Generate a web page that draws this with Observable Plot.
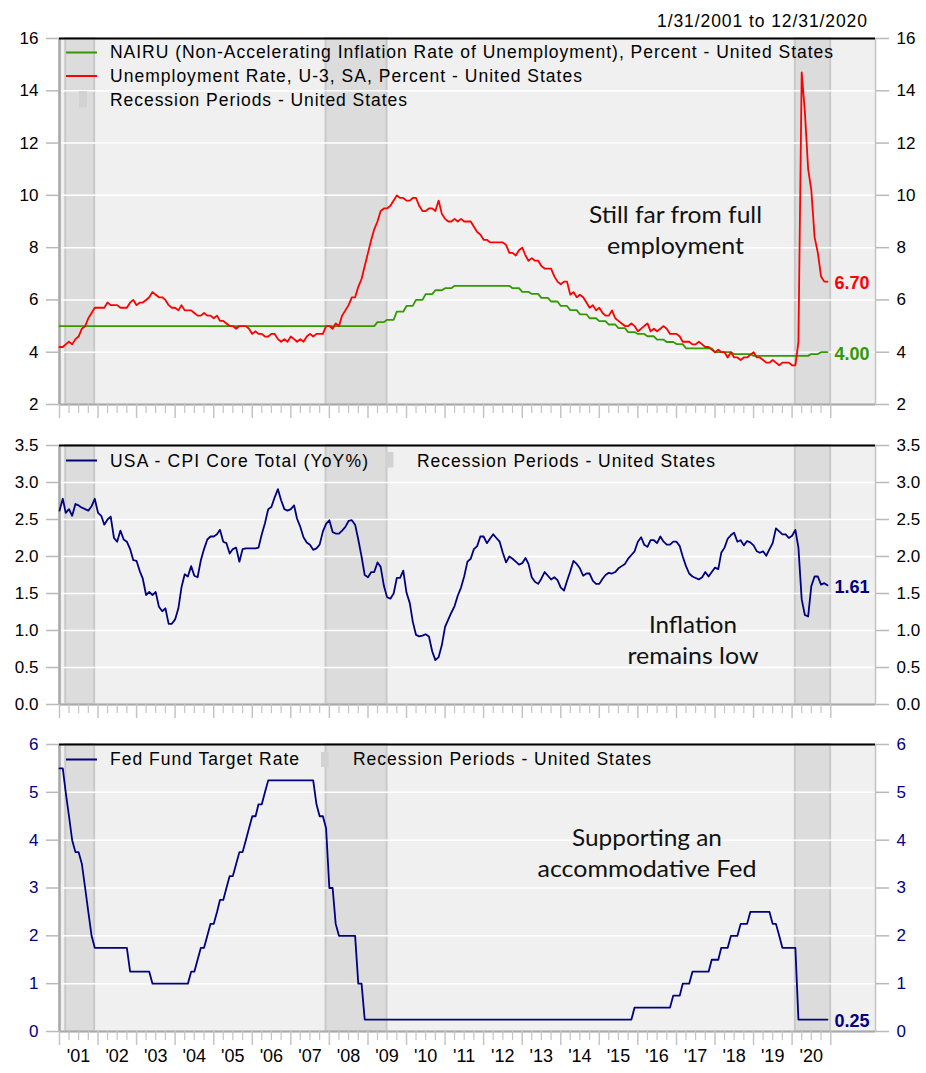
<!DOCTYPE html>
<html>
<head>
<meta charset="utf-8">
<script src="https://cdn.jsdelivr.net/npm/d3@7"></script>
<script src="https://cdn.jsdelivr.net/npm/@observablehq/plot@0.6"></script>
<style>
  html, body { margin: 0; padding: 0; background: #ffffff; }
  #wrap { position: relative; width: 926px; height: 1073px; overflow: hidden; }
  #wrap svg { position: absolute; left: 0; }
</style>
</head>
<body>
<div id="wrap"></div>
<script>
// ---------------- DATA (monthly, Jan 2001 .. Dec 2020) ----------------
const unemployment = [
  4.2,4.2,4.3,4.4,4.3,4.5,4.6,4.9,5.0,5.3,5.5,5.7,
  5.7,5.7,5.7,5.9,5.8,5.8,5.8,5.7,5.7,5.7,5.9,6.0,
  5.8,5.9,5.9,6.0,6.1,6.3,6.2,6.1,6.1,6.0,5.8,5.7,
  5.7,5.6,5.8,5.6,5.6,5.6,5.5,5.4,5.4,5.5,5.4,5.4,
  5.3,5.4,5.2,5.2,5.1,5.0,5.0,4.9,5.0,5.0,5.0,4.9,
  4.7,4.8,4.7,4.7,4.6,4.6,4.7,4.7,4.5,4.4,4.5,4.4,
  4.6,4.5,4.4,4.5,4.4,4.6,4.7,4.6,4.7,4.7,4.7,5.0,
  5.0,4.9,5.1,5.0,5.4,5.6,5.8,6.1,6.1,6.5,6.8,7.3,
  7.8,8.3,8.7,9.0,9.4,9.5,9.5,9.6,9.8,10.0,9.9,9.9,
  9.8,9.8,9.9,9.9,9.6,9.4,9.4,9.5,9.5,9.4,9.8,9.3,
  9.1,9.0,9.0,9.1,9.0,9.1,9.0,9.0,9.0,8.8,8.6,8.5,
  8.3,8.3,8.2,8.2,8.2,8.2,8.2,8.1,7.8,7.8,7.7,7.9,
  8.0,7.7,7.5,7.6,7.5,7.5,7.3,7.2,7.2,7.2,6.9,6.7,
  6.6,6.7,6.7,6.2,6.3,6.1,6.2,6.1,5.9,5.7,5.8,5.6,
  5.7,5.5,5.4,5.4,5.6,5.3,5.2,5.1,5.0,5.0,5.1,5.0,
  4.8,4.9,5.0,5.1,4.8,4.9,4.8,4.9,5.0,4.9,4.7,4.7,
  4.7,4.6,4.4,4.4,4.4,4.3,4.3,4.4,4.3,4.2,4.2,4.1,
  4.0,4.1,4.0,4.0,3.8,4.0,3.8,3.8,3.7,3.8,3.8,3.9,
  4.0,3.8,3.8,3.7,3.6,3.6,3.7,3.6,3.5,3.6,3.6,3.6,
  3.5,3.5,4.4,14.7,13.2,11.0,10.2,8.4,7.8,6.9,6.7,6.7
];

// quarterly, 2001Q1 .. 2020Q4
const nairuQuarterly = [
  5.0,5.0,5.0,5.0, 5.0,5.0,5.0,5.0, 5.0,5.0,5.0,5.0, 5.0,5.0,5.0,5.0,
  5.0,5.0,5.0,5.0, 5.0,5.0,5.0,5.0, 5.0,5.0,5.0,5.0, 5.0,5.0,5.0,5.0,
  5.0,5.15,5.24,5.55, 5.77,6.0,6.22,6.37, 6.45,6.54,6.54,6.54, 6.54,6.54,6.54,6.45,
  6.31,6.23,6.08,5.94, 5.77,5.61,5.45,5.30, 5.19,5.06,4.92,4.77, 4.70,4.61,4.48,4.39,
  4.31,4.15,4.15,4.15, 4.0,4.0,3.93,3.93, 3.86,3.86,3.86,3.86, 3.86,3.86,3.93,4.0
];

const coreCPI = [
  2.62,2.78,2.59,2.64,2.55,2.71,2.69,2.66,2.64,2.62,2.68,2.78,
  2.59,2.55,2.43,2.50,2.54,2.25,2.20,2.35,2.23,2.20,2.10,1.95,
  1.94,1.80,1.70,1.48,1.52,1.48,1.52,1.32,1.26,1.30,1.09,1.09,
  1.15,1.30,1.58,1.76,1.73,1.87,1.74,1.72,1.95,2.10,2.23,2.27,
  2.27,2.30,2.36,2.20,2.18,2.04,2.10,2.12,1.93,2.10,2.11,2.11,
  2.11,2.11,2.12,2.30,2.45,2.64,2.67,2.80,2.91,2.76,2.64,2.62,
  2.64,2.69,2.51,2.40,2.26,2.19,2.16,2.09,2.11,2.16,2.34,2.44,
  2.49,2.33,2.31,2.31,2.35,2.40,2.48,2.49,2.43,2.23,2.00,1.75,
  1.72,1.79,1.79,1.92,1.86,1.60,1.45,1.43,1.50,1.71,1.71,1.81,
  1.51,1.37,1.12,0.94,0.92,0.93,0.95,0.92,0.72,0.60,0.64,0.80,
  1.05,1.15,1.24,1.33,1.47,1.58,1.73,1.93,1.97,2.10,2.14,2.27,
  2.27,2.18,2.24,2.30,2.25,2.20,2.05,1.92,2.00,1.97,1.93,1.89,
  1.91,1.98,1.90,1.72,1.66,1.63,1.70,1.79,1.74,1.69,1.72,1.68,
  1.58,1.54,1.67,1.80,1.94,1.90,1.84,1.74,1.77,1.77,1.67,1.63,
  1.63,1.70,1.75,1.78,1.77,1.79,1.84,1.87,1.90,1.97,2.02,2.07,
  2.20,2.26,2.16,2.13,2.22,2.22,2.18,2.27,2.20,2.16,2.16,2.20,
  2.20,2.14,2.00,1.87,1.77,1.73,1.71,1.69,1.72,1.79,1.73,1.79,
  1.85,1.83,2.05,2.12,2.24,2.29,2.32,2.20,2.22,2.15,2.21,2.19,
  2.15,2.07,2.05,2.07,2.01,2.10,2.18,2.38,2.34,2.30,2.30,2.25,
  2.28,2.36,2.12,1.42,1.21,1.19,1.60,1.73,1.73,1.62,1.64,1.61
];

const fedFunds = [
  5.5,5.5,5.0,4.5,4.0,3.75,3.75,3.5,3.0,2.5,2.0,1.75,
  1.75,1.75,1.75,1.75,1.75,1.75,1.75,1.75,1.75,1.75,1.25,1.25,
  1.25,1.25,1.25,1.25,1.25,1.0,1.0,1.0,1.0,1.0,1.0,1.0,
  1.0,1.0,1.0,1.0,1.0,1.25,1.25,1.5,1.75,1.75,2.0,2.25,
  2.25,2.5,2.75,2.75,3.0,3.25,3.25,3.5,3.75,3.75,4.0,4.25,
  4.5,4.5,4.75,4.75,5.0,5.25,5.25,5.25,5.25,5.25,5.25,5.25,
  5.25,5.25,5.25,5.25,5.25,5.25,5.25,5.25,4.75,4.5,4.5,4.25,
  3.0,3.0,2.25,2.0,2.0,2.0,2.0,2.0,2.0,1.0,1.0,0.25,
  0.25,0.25,0.25,0.25,0.25,0.25,0.25,0.25,0.25,0.25,0.25,0.25,
  0.25,0.25,0.25,0.25,0.25,0.25,0.25,0.25,0.25,0.25,0.25,0.25,
  0.25,0.25,0.25,0.25,0.25,0.25,0.25,0.25,0.25,0.25,0.25,0.25,
  0.25,0.25,0.25,0.25,0.25,0.25,0.25,0.25,0.25,0.25,0.25,0.25,
  0.25,0.25,0.25,0.25,0.25,0.25,0.25,0.25,0.25,0.25,0.25,0.25,
  0.25,0.25,0.25,0.25,0.25,0.25,0.25,0.25,0.25,0.25,0.25,0.25,
  0.25,0.25,0.25,0.25,0.25,0.25,0.25,0.25,0.25,0.25,0.25,0.5,
  0.5,0.5,0.5,0.5,0.5,0.5,0.5,0.5,0.5,0.5,0.5,0.75,
  0.75,0.75,1.0,1.0,1.0,1.25,1.25,1.25,1.25,1.25,1.25,1.5,
  1.5,1.5,1.75,1.75,1.75,2.0,2.0,2.0,2.25,2.25,2.25,2.5,
  2.5,2.5,2.5,2.5,2.5,2.5,2.25,2.25,2.0,1.75,1.75,1.75,
  1.75,1.75,0.25,0.25,0.25,0.25,0.25,0.25,0.25,0.25,0.25,0.25
];

const recessionStarts = ["2001-03-01", "2007-12-01", "2020-02-01"];
const recessionEnds   = ["2001-11-30", "2009-06-30", "2020-12-31"];

const ticksUnemp = [2, 4, 6, 8, 10, 12, 14, 16];
const ticksCPI   = [0, 0.5, 1, 1.5, 2, 2.5, 3, 3.5];
const ticksFed   = [0, 1, 2, 3, 4, 5, 6];
const yearLabels = ["'01","'02","'03","'04","'05","'06","'07","'08","'09","'10",
                    "'11","'12","'13","'14","'15","'16","'17","'18","'19","'20"];

const legend1 = ["NAIRU (Non-Accelerating Inflation Rate of Unemployment), Percent - United States",
                 "Unemployment Rate, U-3, SA, Percent - United States",
                 "Recession Periods - United States"];
const legend2 = ["USA - CPI Core Total (YoY%)", "Recession Periods - United States"];
const legend3 = ["Fed Fund Target Rate", "Recession Periods - United States"];
const annotations = [["Still far from full", "employment"], ["Inflation", "remains low"], ["Supporting an", "accommodative Fed"]];
const dateRange = "1/31/2001 to 12/31/2020";

// ---------------- STYLE ----------------
const FONT = "'Liberation Sans', Arial, Helvetica, sans-serif";
const NARROW = "'Liberation Sans Narrow', 'Arial Narrow', 'Liberation Sans', Arial, sans-serif";
const ANNOT = "Lato, 'Open Sans', sans-serif";
const RED = "#ff0000", GREEN = "#339900", NAVY = "#000080";

// ---------------- DERIVED TABLES ----------------
const months = d3.utcMonth.range(new Date(Date.UTC(2001, 0, 1)), new Date(Date.UTC(2021, 0, 1)));
const rowsOf = arr => months.map((date, i) => ({date, value: arr[i]}));
const unempRows = rowsOf(unemployment);
const nairuRows = months.map((date, i) => ({date, value: nairuQuarterly[Math.floor(i / 3)]}));
const cpiRows = rowsOf(coreCPI);
const fedRows = rowsOf(fedFunds);
const recessions = recessionStarts.map((s, i) => ({start: new Date(s), end: new Date(recessionEnds[i])}));

const xDomain = [new Date(Date.UTC(2001, 0, 1)), new Date(Date.UTC(2022, 2, 1))];
const yearStarts = d3.utcYear.range(new Date(Date.UTC(2001, 0, 1)), new Date(Date.UTC(2021, 0, 2)));
const quarterStarts = d3.utcMonth.every(3).range(new Date(Date.UTC(2001, 0, 1)), new Date(Date.UTC(2021, 0, 1)))
  .filter(d => d.getUTCMonth() !== 0);
const midYears = yearStarts.slice(0, 20).map(d => new Date(Date.UTC(d.getUTCFullYear(), 6, 1)));

const wrap = document.getElementById("wrap");

function panel({top, height, marginTop, marginBottom, yDomain, yTicks, yFormat, labelColor, series, yearAxis}) {
  const marks = [
    Plot.frame({fill: "#f0f0f0"}),
    Plot.rect(recessions, {x1: "start", x2: "end", fill: "#dcdcdc", stroke: "#c9c9c9", strokeWidth: 2}),
    Plot.gridY(yTicks, {stroke: "#ffffff", strokeOpacity: 1, strokeWidth: 1.5}),
    Plot.frame({stroke: "#c4c4c4", strokeWidth: 1.5}),
    Plot.ruleX([xDomain[0]], {stroke: "#a8a8a8", strokeWidth: 2.5}),
    Plot.ruleY([yDomain[0]], {stroke: "#a8a8a8", strokeWidth: 2}),
    Plot.ruleY([yDomain[1]], {stroke: "#000000", strokeWidth: 2})
  ];
  for (const s of series) {
    marks.push(Plot.line(s.rows, {x: "date", y: "value", stroke: s.color, strokeWidth: 1.8}));
  }
  for (const s of series) {
    marks.push(Plot.text(s.rows.slice(-1), {
      x: "date", y: "value", text: d => d.value.toFixed(2),
      dx: 7, dy: 2, textAnchor: "start", fill: s.color, fontWeight: "bold", fontSize: 18, fontFamily: FONT
    }));
  }
  // y axes: ticks, then labels
  for (const anchor of ["left", "right"]) {
    marks.push(Plot.axisY(yTicks, {anchor, tickSize: 13, stroke: "#b9b9b9", strokeWidth: 1.5, tickFormat: () => "", label: null}));
    marks.push(Plot.axisY(yTicks, {anchor, tickSize: 0, tickPadding: 21, color: labelColor, tickFormat: yFormat,
      fontSize: 17, fontFamily: FONT, label: null}));
  }
  // x axis ticks
  marks.push(Plot.axisX(yearStarts, {anchor: "bottom", tickSize: 14, stroke: "#c4c4c4", strokeWidth: 1.5, tickFormat: () => "", label: null}));
  marks.push(Plot.axisX(quarterStarts, {anchor: "bottom", tickSize: 9, stroke: "#c4c4c4", strokeWidth: 1.2, tickFormat: () => "", label: null}));
  if (yearAxis) {
    marks.push(Plot.axisX(midYears, {anchor: "bottom", tickSize: 0, tickPadding: 18, color: "#000000",
      tickFormat: d => yearLabels[d.getUTCFullYear() - 2001], fontSize: 18, fontFamily: NARROW, label: null}));
  }
  const svg = Plot.plot({
    width: 926, height,
    marginLeft: 59, marginRight: 51, marginTop, marginBottom,
    style: {fontFamily: FONT, fontSize: "17px", background: "transparent", overflow: "visible"},
    x: {type: "utc", domain: xDomain, axis: null},
    y: {domain: yDomain, axis: null},
    marks
  });
  svg.style.position = "absolute";
  svg.style.top = top + "px";
  svg.style.left = "0px";
  wrap.appendChild(svg);
}

panel({top: 0, height: 430, marginTop: 38, marginBottom: 26, yDomain: [2, 16], yTicks: ticksUnemp,
  yFormat: d => String(d), labelColor: "#000000",
  series: [{rows: nairuRows, color: GREEN}, {rows: unempRows, color: RED}]});

panel({top: 430, height: 290, marginTop: 15, marginBottom: 16, yDomain: [0, 3.5], yTicks: ticksCPI,
  yFormat: d3.format(".1f"), labelColor: "#000000",
  series: [{rows: cpiRows, color: NAVY}]});

panel({top: 720, height: 353, marginTop: 24, marginBottom: 42, yDomain: [0, 6], yTicks: ticksFed,
  yFormat: d => String(d), labelColor: NAVY,
  series: [{rows: fedRows, color: NAVY}], yearAxis: true});

// ---------------- OVERLAY: legends, annotations, date range ----------------
const ov = d3.select(wrap).append("svg")
  .attr("width", 926).attr("height", 1073)
  .style("position", "absolute").style("top", "0px").style("left", "0px")
  .style("pointer-events", "none");

function txt(x, y, s, {size = 17.5, width, anchor = "start", family = FONT, adjust = "spacing", fill = "#000"} = {}) {
  const t = ov.append("text").attr("x", x).attr("y", y).text(s)
    .attr("font-family", family).attr("font-size", size).attr("fill", fill)
    .attr("text-anchor", anchor);
  if (width) t.attr("textLength", width).attr("lengthAdjust", adjust);
  return t;
}
function swLine(x1, x2, y, color) {
  ov.append("line").attr("x1", x1).attr("x2", x2).attr("y1", y).attr("y2", y)
    .attr("stroke", color).attr("stroke-width", 2);
}
function swRect(x, y, w, h) {
  ov.append("rect").attr("x", x).attr("y", y).attr("width", w).attr("height", h).attr("fill", "#d2d2d2");
}

txt(867, 26.5, dateRange, {anchor: "end", width: 210});

// panel 1 legend
swLine(66, 97, 52.5, GREEN);
txt(110, 58.3, legend1[0], {width: 723});
swLine(66, 97, 76, RED);
txt(110, 82, legend1[1], {width: 472});
swRect(79, 91, 8, 16.5);
txt(110, 105.5, legend1[2], {width: 297});

// panel 2 legend
swLine(66, 97, 460.5, NAVY);
txt(110, 467, legend2[0], {width: 258});
swRect(386, 452, 7.5, 15.5);
txt(417, 467, legend2[1], {width: 298});

// panel 3 legend
swLine(66, 97, 759.5, NAVY);
txt(110, 764.5, legend3[0], {width: 189});
swRect(321, 752, 7.5, 15);
txt(353, 764.5, legend3[1], {width: 298});

// annotations
const annSpec = [
  {cx: 675.5, y: 222.7, w: [173, 137]},
  {cx: 693, y: 632.7, w: [88, 131]},
  {cx: 647, y: 845.5, w: [150, 219]}
];
annotations.forEach((lines, k) => {
  lines.forEach((s, j) => {
    txt(annSpec[k].cx, annSpec[k].y + j * 31.5, s,
      {size: 23, anchor: "middle", family: ANNOT, width: annSpec[k].w[j], adjust: "spacingAndGlyphs", fill: "#111"});
  });
});
</script>
</body>
</html>
